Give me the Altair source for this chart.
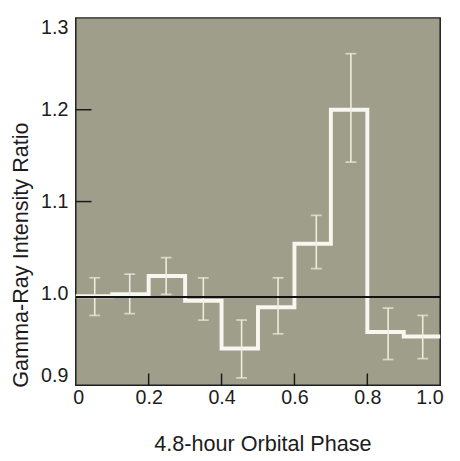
import altair as alt
import pandas as pd

# ---- data ----
bin_edges = [0.0, 0.1, 0.2, 0.3, 0.4, 0.5, 0.6, 0.7, 0.8, 0.9, 1.0]
ratio = [0.997, 0.999, 1.019, 0.992, 0.940, 0.985, 1.054, 1.200, 0.958, 0.953]
err_x = [0.052, 0.148, 0.248, 0.350, 0.455, 0.555, 0.660, 0.755, 0.857, 0.952]
err_hi = [1.017, 1.021, 1.039, 1.017, 0.971, 1.017, 1.085, 1.261, 0.984, 0.976]
err_lo = [0.976, 0.978, 0.999, 0.971, 0.908, 0.956, 1.027, 1.143, 0.928, 0.929]
reference_level = [0.996]
x_tick_values = [0.2, 0.4, 0.6, 0.8]
y_tick_values = [1.1, 1.2]
x_labels = [0.0, 0.2, 0.4, 0.6, 0.8, 1.0]
y_labels = [0.9, 1.0, 1.1, 1.2, 1.3]

W, H = 371, 374
FONT = "Liberation Sans"
TXT = "#1c1c1c"

step_df = pd.DataFrame({"phase": bin_edges, "ratio": ratio + [ratio[-1]]})
err_df = pd.DataFrame({"phase": err_x, "lo": err_lo, "hi": err_hi})
ref_df = pd.DataFrame({"ratio": reference_level})
xt_df = pd.DataFrame({"phase": x_tick_values})
yt_df = pd.DataFrame({"ratio": y_tick_values})

xscale = alt.Scale(domain=[0, 1.0], nice=False, zero=False)
yscale = alt.Scale(domain=[0.9, 1.3], nice=False, zero=False)

x_axis = alt.Axis(
    values=x_labels,
    labelExpr="datum.value == 0 ? '0' : format(datum.value, '.1f')",
    title="4.8-hour Orbital Phase",
    titleX=190, titleY=59, titleAlign="center", titleBaseline="middle",
    grid=False, domain=False, ticks=False, labelPadding=3,
    labelFlush=True, labelFlushOffset=3,
)
y_axis = alt.Axis(
    values=y_labels, format=".1f",
    title="Gamma-Ray Intensity Ratio",
    titleX=-56, titleY=241, titleAlign="center", titleBaseline="middle", titleAngle=270,
    grid=False, domain=False, ticks=False, labelPadding=8,
    labelFlush=True, labelFlushOffset=0,
)

base_x = alt.X("phase:Q", scale=xscale, axis=x_axis)

step = alt.Chart(step_df).mark_line(
    interpolate="step-after", color="#f7f7f0", strokeWidth=4, strokeJoin="miter"
).encode(x=base_x, y=alt.Y("ratio:Q", scale=yscale, axis=y_axis))

err_rule = alt.Chart(err_df).mark_rule(color="#eeeddf", strokeWidth=1.6).encode(
    x=alt.X("phase:Q", scale=xscale), y=alt.Y("lo:Q", scale=yscale), y2="hi:Q"
)
err_cap_hi = alt.Chart(err_df).mark_tick(
    color="#eeeddf", orient="horizontal", size=11, thickness=1.8
).encode(x=alt.X("phase:Q", scale=xscale), y=alt.Y("hi:Q", scale=yscale))
err_cap_lo = alt.Chart(err_df).mark_tick(
    color="#eeeddf", orient="horizontal", size=11, thickness=1.8
).encode(x=alt.X("phase:Q", scale=xscale), y=alt.Y("lo:Q", scale=yscale))

ref_line = alt.Chart(ref_df).mark_rule(color="#111111", strokeWidth=2).encode(
    y=alt.Y("ratio:Q", scale=yscale), x=alt.value(0), x2=alt.value(W)
)

xticks = alt.Chart(xt_df).mark_rule(color="#1a1a1a", strokeWidth=1.5).encode(
    x=alt.X("phase:Q", scale=xscale), y=alt.value(H), y2=alt.value(H - 12)
)
yticks = alt.Chart(yt_df).mark_rule(color="#1a1a1a", strokeWidth=1.5).encode(
    y=alt.Y("ratio:Q", scale=yscale), x=alt.value(0), x2=alt.value(16)
)

chart = alt.layer(step, err_rule, err_cap_hi, err_cap_lo, ref_line, xticks, yticks).properties(
    width=W, height=H,
    padding={"left": 1, "top": 6, "right": 4, "bottom": 0},
    background="#ffffff",
).configure_view(
    fill="#9f9e8b", stroke="#1e1e1e", strokeWidth=1.5
).configure_axis(
    labelFont=FONT, labelFontSize=20, labelColor=TXT,
    titleFont=FONT, titleFontSize=22, titleColor=TXT, titleFontWeight="normal",
)

chart.save("out.html", embed_options={"renderer": "svg", "actions": False})
